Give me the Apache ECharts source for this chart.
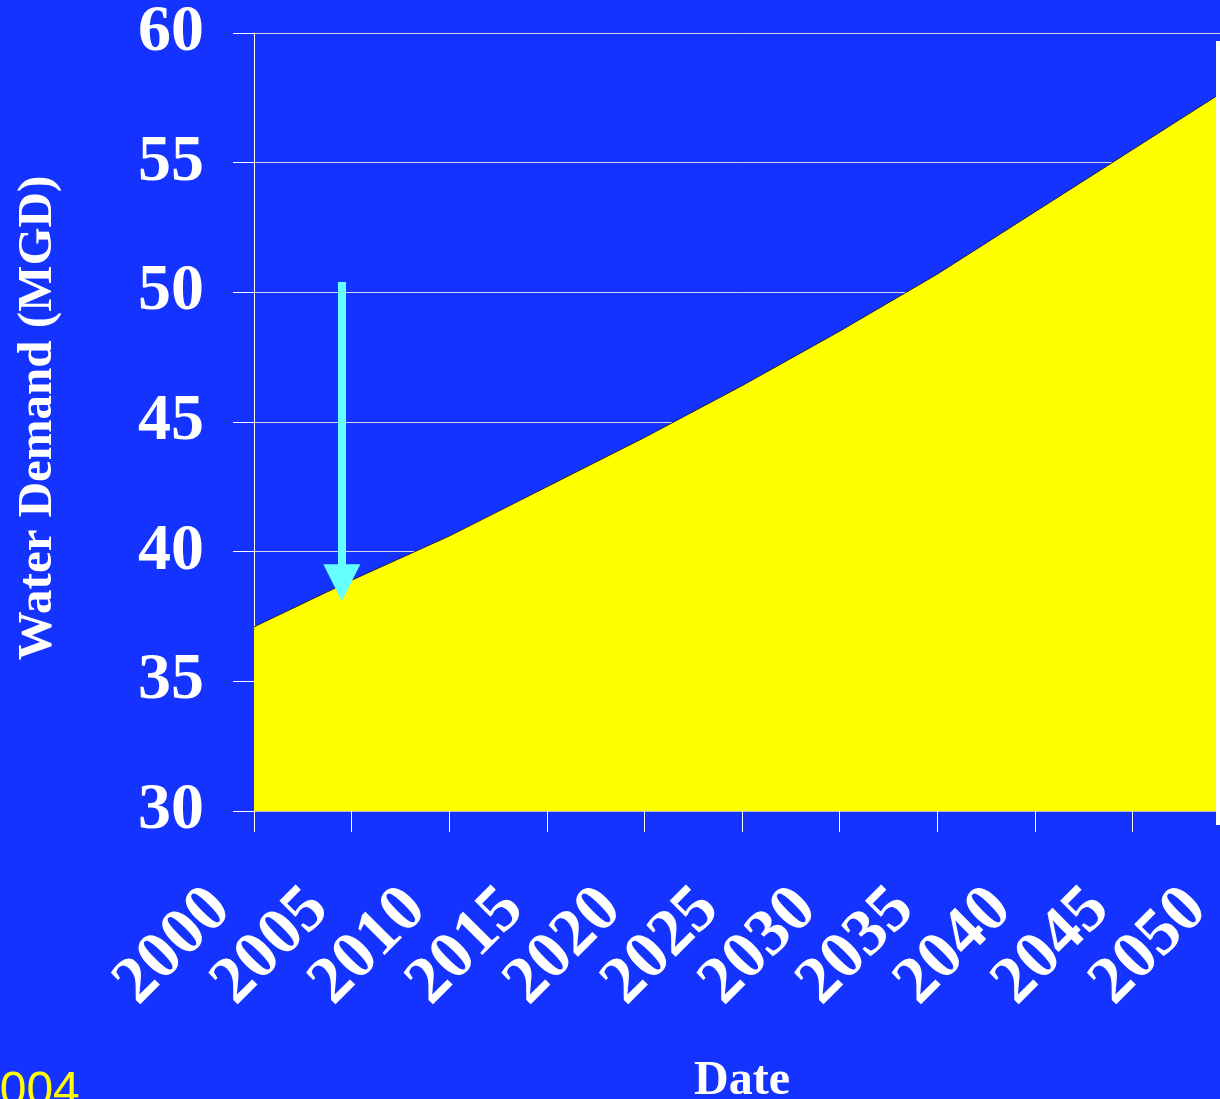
<!DOCTYPE html>
<html>
<head>
<meta charset="utf-8">
<style>
  html, body { margin: 0; padding: 0; background: #1433ff; }
  #chart { width: 1220px; height: 1099px; }
</style>
<script src="https://cdn.jsdelivr.net/npm/echarts@6/dist/echarts.min.js"></script>
</head>
<body>
<div id="chart"></div>
<script>
// Projected water demand, million gallons per day
const years = [2000, 2005, 2010, 2015, 2020, 2025, 2030, 2035, 2040, 2045, 2050];
const demand = [37.1, 38.9, 40.6, 42.5, 44.4, 46.4, 48.5, 50.7, 53.1, 55.5, 57.9];

// Conservation arrow: year it sits at, start value and head value
const arrowYear = 2004.5;
const arrowFrom = 50.4;
const arrowTo = 38.8;

const yMin = 30, yMax = 60, yStep = 5;
const xMin = 2000, xMax = 2050, xStep = 5;

const serif = '"Liberation Serif", "Times New Roman", serif';

const chart = echarts.init(document.getElementById('chart'), null, { renderer: 'canvas' });

chart.setOption({
  animation: false,
  backgroundColor: '#1433ff',
  grid: {
    left: 254, right: -10, top: 33, bottom: 288,
    containLabel: false,
    outerBoundsMode: 'none'
  },
  xAxis: {
    type: 'value',
    min: xMin, max: xMax, interval: xStep,
    name: 'Date',
    nameLocation: 'middle',
    nameGap: 247,
    nameTextStyle: { color: '#ffffff', fontFamily: serif, fontWeight: 'bold', fontSize: 48 },
    axisLine: { show: true, onZero: false, lineStyle: { color: '#b4b4c8', width: 1 } },
    axisTick: { show: true, length: 21, lineStyle: { color: '#ffffff', width: 1 } },
    axisLabel: {
      color: '#ffffff', fontFamily: serif, fontWeight: 'bold', fontSize: 67,
      rotate: 45, margin: 55,
      padding: [0, 47, 0, 0],
      hideOverlap: false,
      formatter: v => String(v)
    },
    splitLine: { show: false }
  },
  yAxis: {
    type: 'value',
    min: yMin, max: yMax, interval: yStep,
    name: 'Water Demand (MGD)',
    nameLocation: 'middle',
    nameGap: 191,
    nameTextStyle: { color: '#ffffff', fontFamily: serif, fontWeight: 'bold', fontSize: 49, padding: [0, 0, 0, 8] },
    axisLine: { show: true, lineStyle: { color: '#ffffff', width: 1 } },
    axisTick: { show: true, length: 21, lineStyle: { color: '#ffffff', width: 1 } },
    axisLabel: { color: '#ffffff', fontFamily: serif, fontWeight: 'bold', fontSize: 66, margin: 50 },
    splitLine: { show: true, lineStyle: { color: '#d8d8e8', width: 1 } }
  },
  series: [{
    type: 'line',
    data: years.map((y, i) => [y, demand[i]]),
    symbol: 'none',
    smooth: false,
    lineStyle: { color: '#202040', width: 1 },
    areaStyle: { color: '#ffff00', opacity: 1, origin: 'start' },
    silent: true,
    markLine: {
      silent: true,
      symbol: ['none', 'triangle'],
      symbolSize: 37,
      label: { show: false },
      lineStyle: { color: '#66ffff', width: 8, type: 'solid' },
      emphasis: { disabled: true },
      data: [[
        { coord: [arrowYear, arrowFrom] },
        { coord: [arrowYear, arrowTo] }
      ]]
    }
  }],
  graphic: [
    {
      type: 'rect',
      left: 1216, top: 41,
      z: 100,
      shape: { width: 4, height: 784 },
      style: { fill: '#ffffff' },
      silent: true
    },
    {
      type: 'text',
      left: -27, top: 1068,
      z: 100,
      style: { text: '2004', fill: '#ffff00', font: '48px "Liberation Sans", Arial, sans-serif' },
      silent: true
    }
  ]
});
</script>
</body>
</html>
